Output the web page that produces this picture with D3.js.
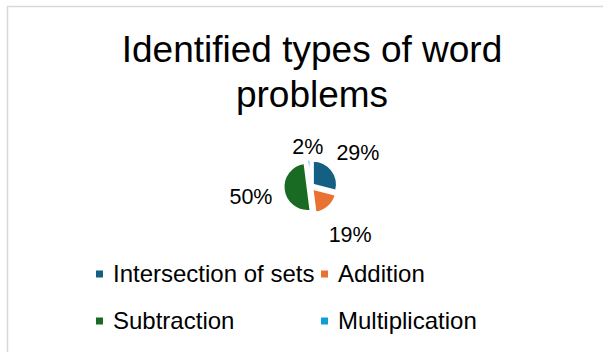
<!DOCTYPE html>
<html>
<head>
<meta charset="utf-8">
<script src="https://cdn.jsdelivr.net/npm/d3@7"></script>
<style>
  body { margin: 0; background: #fff; }
  text { font-family: "Liberation Sans", Arial, sans-serif; fill: #000; }
</style>
</head>
<body>
<div id="chart"></div>
<script>
var width = 603,
    height = 352;

// data
var categories = ["Intersection of sets", "Addition", "Subtraction", "Multiplication"];
var values = [29, 19, 50, 2];
var colors = ["#156082", "#E97132", "#196B24", "#0F9ED5"];
var titleLines = ["Identified types of word", "problems"];

var svg = d3.select("#chart")
  .append("svg")
  .attr("width", width)
  .attr("height", height);

// chart frame (only top/left edges fall inside the window)
svg.append("rect")
  .attr("x", 7.5)
  .attr("y", 6.5)
  .attr("width", 700)
  .attr("height", 500)
  .attr("fill", "#fff")
  .attr("stroke", "#d9d9d9")
  .attr("stroke-width", 1.5);

// title
svg.selectAll(".title")
  .data(titleLines)
  .enter()
  .append("text")
  .attr("class", "title")
  .attr("x", 312)
  .attr("y", function(d, i) { return 62 + i * 45; })
  .attr("text-anchor", "middle")
  .attr("font-size", "37px")
  .text(function(d) { return d; });

// pie (exploded slices)
var cx = 310.5, cy = 186.5, r = 24, explode = 3;

var pie = d3.pie().sort(null).value(function(d) { return d.value; });
var arcs = pie(categories.map(function(c, i) {
  return { name: c, value: values[i], color: colors[i] };
}));

var arc = d3.arc().innerRadius(0).outerRadius(r);
var g = svg.append("g").attr("transform", "translate(" + cx + "," + cy + ")");

g.selectAll("path")
  .data(arcs)
  .enter()
  .append("path")
  .attr("d", arc)
  .attr("fill", function(d) { return d.data.color; })
  .attr("stroke", "#fff")
  .attr("stroke-width", 2)
  .attr("transform", function(d) {
    var a = (d.startAngle + d.endAngle) / 2;
    return "translate(" + (Math.sin(a) * explode) + "," + (-Math.cos(a) * explode) + ")";
  });

var total = d3.sum(values);
g.selectAll(".lbl")
  .data(arcs)
  .enter()
  .append("text")
  .attr("class", "lbl")
  .attr("font-size", "21.5px")
  .attr("text-anchor", "middle")
  .attr("dominant-baseline", "central")
  .attr("transform", function(d) {
    var a = (d.startAngle + d.endAngle) / 2;
    var lr = d.value / total < 0.05 ? 43 : 60;
    return "translate(" + (Math.sin(a) * lr) + "," + (-Math.cos(a) * lr + 3) + ")";
  })
  .text(function(d) { return Math.round(d.value / total * 100) + "%"; });

// legend, two columns
var legend = svg.selectAll(".legend")
  .data(categories)
  .enter()
  .append("g")
  .attr("class", "legend")
  .attr("transform", function(d, i) {
    return "translate(" + (96 + (i % 2) * 225) + "," + (274 + Math.floor(i / 2) * 47) + ")";
  });

legend.append("rect")
  .attr("x", 0)
  .attr("y", -3.5)
  .attr("width", 7)
  .attr("height", 7)
  .attr("fill", function(d, i) { return colors[i]; });

legend.append("text")
  .attr("x", 17)
  .attr("y", 8)
  .attr("font-size", "24px")
  .text(function(d) { return d; });
</script>
</body>
</html>
